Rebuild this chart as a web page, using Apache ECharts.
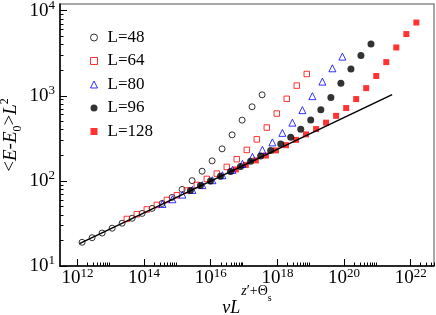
<!DOCTYPE html>
<html><head><meta charset="utf-8">
<script src="https://cdn.jsdelivr.net/npm/echarts@6/dist/echarts.min.js"></script>
<style>html,body{margin:0;padding:0;background:#fff}#c{width:436px;height:315px}</style>
</head><body><div id="c"></div>
<script>
// ---- data ----
const seriesNames = ['L=48', 'L=64', 'L=80', 'L=96', 'L=128'];

const x48 = [1.38e12, 2.76e12, 5.51e12, 1.10e13, 2.19e13, 4.38e13, 8.73e13, 1.74e14, 3.48e14, 6.93e14, 1.38e15, 2.76e15, 5.51e15, 1.10e16, 2.19e16, 4.38e16, 8.73e16, 1.74e17, 3.48e17];
const y48 = [19.0, 21.5, 24.4, 27.8, 31.8, 36.4, 41.5, 47.5, 54.3, 64.0, 79.4, 100.8, 130, 172, 238, 348, 518, 743, 1028];

const x64 = [3.03e13, 6.05e13, 1.21e14, 2.41e14, 4.81e14, 9.59e14, 1.91e15, 3.82e15, 7.62e15, 1.52e16, 3.03e16, 6.05e16, 1.21e17, 2.41e17, 4.81e17, 9.59e17, 1.91e18, 3.82e18, 7.62e18];
const y64 = [35.7, 40.6, 46.2, 52.2, 59.7, 67.9, 77.3, 89.7, 105.6, 121.9, 146, 180, 231.5, 307.8, 424, 619, 922, 1318, 1805];

const x80 = [3.55e14, 7.08e14, 1.41e15, 2.82e15, 5.62e15, 1.12e16, 2.24e16, 4.47e16, 8.91e16, 1.78e17, 3.55e17, 7.08e17, 1.41e18, 2.82e18, 5.62e18, 1.12e19, 2.24e19, 4.47e19, 8.91e19];
const y80 = [53.6, 60.9, 69.0, 78.4, 89.2, 101.9, 116.7, 134.7, 158.5, 191.5, 231.5, 283.8, 367, 483.8, 679, 991, 1469, 2107, 2891];

const x96 = [2.45e15, 4.91e15, 9.82e15, 1.96e16, 3.93e16, 7.85e16, 1.57e17, 3.14e17, 6.28e17, 1.26e18, 2.51e18, 5.02e18, 1.00e19, 2.01e19, 4.02e19, 8.04e19, 1.61e20, 3.21e20, 6.43e20];
const y96 = [76.9, 88.1, 100, 113.6, 128.6, 147.3, 170.5, 195.8, 227, 271, 326.7, 405.6, 519, 684, 955, 1410, 2066, 2980, 4067];

const x128 = [5.65e16, 1.13e17, 2.26e17, 4.52e17, 9.04e17, 1.81e18, 3.61e18, 7.23e18, 1.45e19, 2.89e19, 5.78e19, 1.16e20, 2.31e20, 4.62e20, 9.25e20, 1.85e21, 3.70e21, 7.40e21, 1.48e22];
const y128 = [136.5, 154.3, 174.2, 198.5, 228.4, 263, 303.6, 352.4, 406.7, 483.8, 581.9, 718, 916, 1232, 1710, 2490, 3700, 5320, 7265];

const fitX = [1.15e12, 2.77e21];
const fitY = [18.3, 1035];

const xTickExponents = [12, 14, 16, 18, 20, 22];
const yTickExponents = [1, 2, 3, 4];
const xRange = [3e11, 5e22];
const yRange = [10, 1.2e4];

// ---- build ----
const lg = Math.log10;
const pairs = (xs, ys) => xs.map((x, i) => [lg(x), lg(ys[i])]);
const xMin = lg(xRange[0]), xMax = lg(xRange[1]);
const yMin = lg(yRange[0]), yMax = lg(yRange[1]);

const xMinor = [];
xTickExponents.forEach(e => { for (let k = 2; k <= 9; k++) { const v = e + lg(k); if (v <= xMax + 1e-9) xMinor.push(v); } });
const yMinor = [];
yTickExponents.forEach(e => { for (let k = 2; k <= 9; k++) { const v = e + lg(k); if (v <= yMax + 1e-9) yMinor.push(v); } });

const FONT = 'Liberation Serif';
const powRich = {
  b: { fontFamily: FONT, fontSize: 19, lineHeight: 19, color: '#000', verticalAlign: 'bottom' },
  s: { fontFamily: FONT, fontSize: 13, lineHeight: 13, color: '#000', verticalAlign: 'bottom', padding: [0, 0, 8, 0] }
};
const powFmt = v => '{b|10}{s|' + Math.round(v) + '}';

const axisLineStyle = { color: '#000', width: 1.5 };

const chart = echarts.init(document.getElementById('c'), null, { renderer: 'canvas' });
chart.setOption({
  animation: false,
  backgroundColor: '#fff',
  grid: { left: 60, right: 2, top: 4, bottom: 49, show: true, borderColor: '#8a8a8a', borderWidth: 1.5, backgroundColor: 'transparent', containLabel: false, outerBoundsMode: 'none' },
  legend: {
    data: seriesNames,
    orient: 'vertical', left: 85, top: 24,
    itemWidth: 7, itemHeight: 7, itemGap: 6.5,
    itemStyle: { borderWidth: 1 },
    textStyle: { fontFamily: FONT, fontSize: 17, color: '#000', lineHeight: 17, padding: [0, 0, 0, 5] }
  },
  xAxis: [
    {
      type: 'value', min: xMin, max: xMax, position: 'bottom',
      axisLine: { show: true, lineStyle: axisLineStyle },
      axisTick: { show: true, inside: true, length: 7, customValues: xTickExponents, lineStyle: { color: '#000', width: 1 } },
      axisLabel: { customValues: xTickExponents, formatter: powFmt, rich: powRich, margin: 3 },
      splitLine: { show: false },
      name: '{i|v}{i|L}{si|z}{s|\u2032+\u0398}{sub|s}',
      nameLocation: 'middle', nameGap: 33, nameMoveOverlap: false,
      nameTextStyle: {
        rich: {
          i: { fontFamily: FONT, fontSize: 18, lineHeight: 18, fontStyle: 'italic', color: '#000', verticalAlign: 'bottom' },
          si: { fontFamily: FONT, fontSize: 14, lineHeight: 14, fontStyle: 'italic', color: '#000', verticalAlign: 'bottom', padding: [0, 0, 19, 1] },
          s: { fontFamily: FONT, fontSize: 14, lineHeight: 14, color: '#000', verticalAlign: 'bottom', padding: [0, 0, 19, 0] },
          sub: { fontFamily: FONT, fontSize: 10, lineHeight: 10, color: '#000', verticalAlign: 'bottom', padding: [0, 0, 14, 0] }
        }
      }
    },
    {
      type: 'value', min: xMin, max: xMax, position: 'bottom',
      axisLine: { show: false },
      axisTick: { show: true, inside: true, length: 3.5, customValues: xMinor, lineStyle: { color: '#000', width: 1 } },
      axisLabel: { show: false },
      splitLine: { show: false }
    }
  ],
  yAxis: [
    {
      type: 'value', min: yMin, max: yMax, position: 'left',
      axisLine: { show: true, lineStyle: axisLineStyle },
      axisTick: { show: true, inside: true, length: 7, customValues: yTickExponents, lineStyle: { color: '#000', width: 1 } },
      axisLabel: { customValues: yTickExponents, formatter: powFmt, rich: powRich, margin: 5 },
      splitLine: { show: false },
      name: '{n|<}{i|E}{n|-}{i|E}{sub|0}{n|>}{i|L}{sup|2}',
      nameLocation: 'middle', nameRotate: 90, nameGap: 36, nameMoveOverlap: false,
      nameTextStyle: {
        rich: {
          n: { fontFamily: FONT, fontSize: 19, lineHeight: 19, color: '#000', verticalAlign: 'bottom', padding: [0, 0, 4, 0] },
          i: { fontFamily: FONT, fontSize: 19, lineHeight: 19, fontStyle: 'italic', color: '#000', verticalAlign: 'bottom', padding: [0, 0, 4, 0] },
          sub: { fontFamily: FONT, fontSize: 12, lineHeight: 12, color: '#000', verticalAlign: 'bottom' },
          sup: { fontFamily: FONT, fontSize: 12, lineHeight: 12, color: '#000', verticalAlign: 'bottom', padding: [0, 0, 13, 0] }
        }
      }
    },
    {
      type: 'value', min: yMin, max: yMax, position: 'left',
      axisLine: { show: false },
      axisTick: { show: true, inside: true, length: 3.5, customValues: yMinor, lineStyle: { color: '#000', width: 1 } },
      axisLabel: { show: false },
      splitLine: { show: false }
    }
  ],
  series: [
    { name: 'L=128', type: 'scatter', z: 2, data: pairs(x128, y128), symbol: 'rect', symbolSize: 6, itemStyle: { color: '#ff0000' } },
    { name: 'L=48', type: 'scatter', z: 3, data: pairs(x48, y48), symbol: 'circle', symbolSize: 6, itemStyle: { color: 'rgba(255,255,255,0)', borderColor: '#000', borderWidth: 1 } },
    { name: 'L=64', type: 'scatter', z: 3, data: pairs(x64, y64), symbol: 'rect', symbolSize: 5.5, itemStyle: { color: 'rgba(255,255,255,0)', borderColor: '#ff0000', borderWidth: 1 } },
    { name: 'L=80', type: 'scatter', z: 3, data: pairs(x80, y80), symbol: 'triangle', symbolSize: 7, itemStyle: { color: 'rgba(255,255,255,0)', borderColor: '#0000ff', borderWidth: 1 } },
    { name: 'L=96', type: 'scatter', z: 4, data: pairs(x96, y96), symbol: 'circle', symbolSize: 7, itemStyle: { color: '#000' } },
    { name: 'fit', type: 'line', z: 5, data: pairs(fitX, fitY), symbol: 'none', lineStyle: { color: '#000', width: 1.5 }, silent: true }
  ]
});
</script>
</body></html>
